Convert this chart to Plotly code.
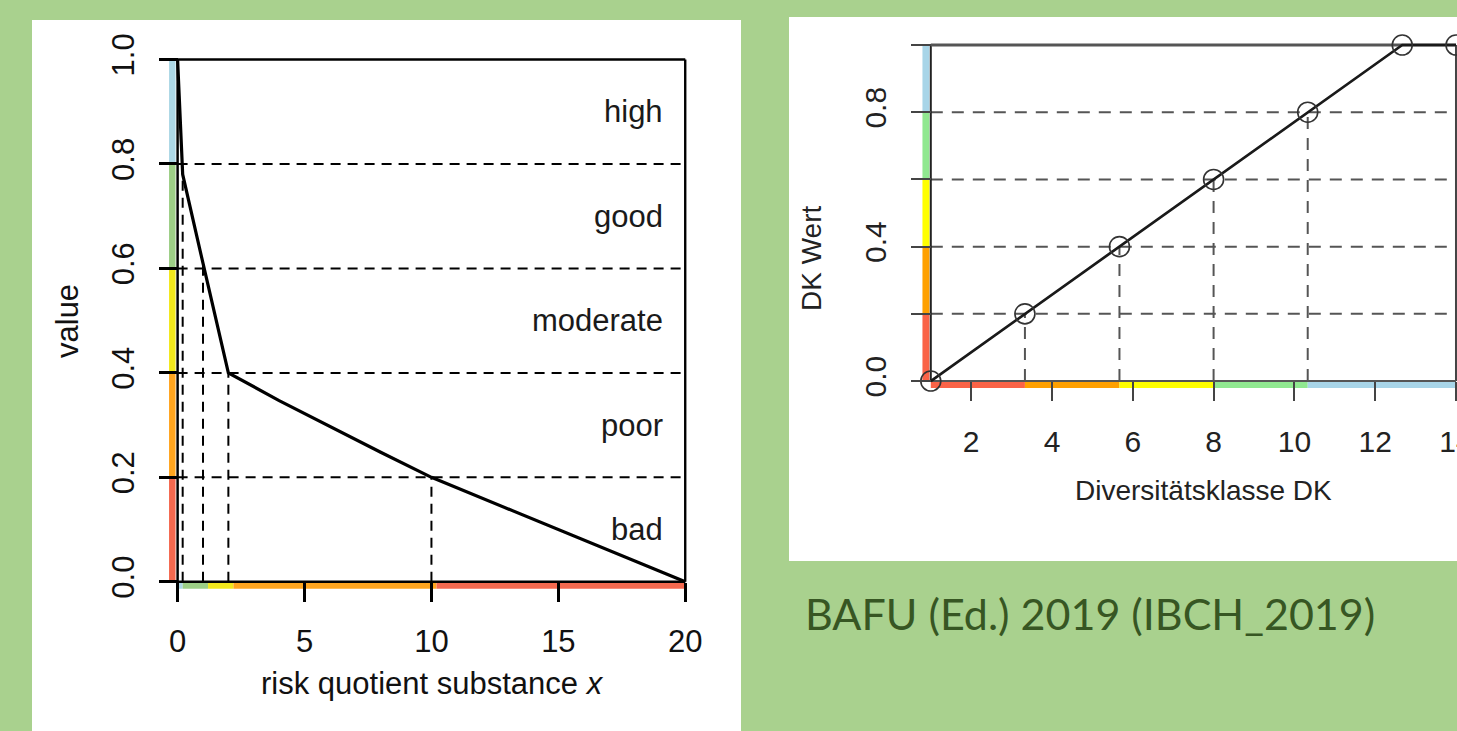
import plotly.graph_objects as go

W, H = 1457, 731


def px(x):
    return x / W


def py(y):
    return 1 - y / H


# ---------------- left chart data ----------------
risk_x = [0, 0.2, 1, 2, 4, 6, 8, 10, 15, 20]
risk_value = [1.0, 0.78, 0.61, 0.40, 0.347, 0.297, 0.248, 0.20, 0.10, 0.0]
class_names = ["bad", "poor", "moderate", "good", "high"]
class_bounds = [0.0, 0.2, 0.4, 0.6, 0.8, 1.0]
left_colors = ["#f4694f", "#ffa51f", "#f2e81c", "#9dcf86", "#add8e6"]  # bad -> high
risk_guide_x = [0.2, 1, 2, 10]
risk_guide_top = [0.78, 0.61, 0.40, 0.20]
risk_bar_bounds = [0.05, 0.2, 1.2, 2.2, 10.2, 20.0]  # high -> bad along x
risk_xticks = [0, 5, 10, 15, 20]
value_yticks = [0.0, 0.2, 0.4, 0.6, 0.8, 1.0]
value_yticklabels = ["0.0", "0.2", "0.4", "0.6", "0.8", "1.0"]

# ---------------- right chart data ----------------
dk_x = [1, 3.33, 5.67, 8, 10.33, 12.67, 14]
dk_value = [0.0, 0.2, 0.4, 0.6, 0.8, 1.0, 1.0]
dk_guide_x = [3.33, 5.67, 8, 10.33]
dk_guide_top = [0.2, 0.4, 0.6, 0.8]
dk_bar_bounds = [1, 3.33, 5.67, 8, 10.33, 14]  # bad -> high along x
right_colors = ["#fa6347", "#ffa000", "#ffff00", "#90e890", "#a8d5e8"]  # bad -> high
dk_xticks = [2, 4, 6, 8, 10, 12, 14]
dk_yticks = [0.0, 0.2, 0.4, 0.6, 0.8, 1.0]
dk_yticklabels = ["0.0", "", "0.4", "", "0.8", ""]

source_text = "BAFU (Ed.) 2019 (IBCH_2019)"

FONT = "Liberation Sans, Arial, Helvetica, sans-serif"

fig = go.Figure()


def seg(x, y, color, width, dash=None, xa="x", ya="y"):
    fig.add_trace(go.Scatter(x=x, y=y, mode="lines", xaxis=xa, yaxis=ya,
                             line=dict(color=color, width=width, dash=dash),
                             hoverinfo="skip", showlegend=False))


# ---------- left chart ----------
for i in range(5):
    seg([-0.21, -0.21], [class_bounds[i], class_bounds[i + 1]], left_colors[i], 6.5)
for i in range(5):
    seg([risk_bar_bounds[i], risk_bar_bounds[i + 1]], [-0.0075, -0.0075], left_colors[4 - i], 6)
for b in class_bounds[1:-1]:
    seg([0, 20], [b, b], "black", 2, "10px,7px")
for gx, gt in zip(risk_guide_x, risk_guide_top):
    seg([gx, gx], [0, gt], "black", 2, "10px,7px")
seg([0, 0], [0, 1], "black", 2.5)
seg([20, 20], [0, 1], "black", 2.5)
seg([0, 20], [1, 1], "black", 2.5)
seg([0, 20], [0, 0], "black", 2.5)
seg(risk_x, risk_value, "black", 3.2)

# ---------- right chart ----------
for i in range(5):
    seg([0.88, 0.88], [class_bounds[i], class_bounds[i + 1]], right_colors[i], 7, xa="x2", ya="y2")
for i in range(5):
    seg([dk_bar_bounds[i], dk_bar_bounds[i + 1]], [-0.012, -0.012], right_colors[i], 6, xa="x2", ya="y2")
for b in class_bounds[1:-1]:
    seg([1, 14], [b, b], "#555555", 2, "12px,9px", xa="x2", ya="y2")
for gx, gt in zip(dk_guide_x, dk_guide_top):
    seg([gx, gx], [0, gt], "#555555", 2, "12px,9px", xa="x2", ya="y2")
seg([1, 1], [0, 1], "#222222", 2, xa="x2", ya="y2")
seg([14, 14], [0, 1], "#444444", 2, xa="x2", ya="y2")
seg([1, 14], [1, 1], "#555555", 3, xa="x2", ya="y2")
seg([1, 14], [0, 0], "#555555", 2, xa="x2", ya="y2")
fig.add_trace(go.Scatter(x=dk_x, y=dk_value, mode="lines+markers", xaxis="x2", yaxis="y2",
                         line=dict(color="#1a1a1a", width=2.7),
                         marker=dict(symbol="circle-open", size=20, color="#333333",
                                     line=dict(width=1.6, color="#333333")),
                         cliponaxis=False, hoverinfo="skip", showlegend=False))

axis_common = dict(showgrid=False, zeroline=False, showline=False, fixedrange=True, automargin=False)

fig.update_layout(
    width=W, height=H,
    margin=dict(l=0, r=0, t=0, b=0, pad=0),
    paper_bgcolor="#a9d18e",
    plot_bgcolor="rgba(0,0,0,0)",
    showlegend=False,
    hovermode=False,
    xaxis=dict(**axis_common, domain=[px(159.4), px(686.8)], range=[-0.717, 20.06],
               anchor="free", position=py(581.8),
               ticks="outside", ticklen=19.5, tickwidth=2.5, tickcolor="black",
               tickvals=risk_xticks, ticktext=[str(v) for v in risk_xticks],
               ticklabelstandoff=12,
               tickfont=dict(family=FONT, size=31, color="#111111")),
    yaxis=dict(**axis_common, domain=[py(605.3), py(56.9)], range=[-0.045, 1.005],
               anchor="x", ticks="inside", ticklen=18.2, tickwidth=2.5, tickcolor="black",
               tickvals=value_yticks, ticktext=value_yticklabels, tickangle=-90,
               ticklabelstandoff=18,
               tickfont=dict(family=FONT, size=31, color="#111111")),
    xaxis2=dict(**axis_common, domain=[px(911), 1.0], range=[0.51, 14.025],
                anchor="free", position=py(381),
                ticks="outside", ticklen=19, tickwidth=2, tickcolor="#444444",
                tickvals=dk_xticks, ticktext=[str(v) for v in dk_xticks],
                ticklabelstandoff=15, ticklabeloverflow="allow",
                tickfont=dict(family=FONT, size=30, color="#222222")),
    yaxis2=dict(**axis_common, domain=[py(401.2), py(43)], range=[-0.06, 1.006],
                anchor="x2", ticks="inside", ticklen=20, tickwidth=2, tickcolor="#444444",
                tickvals=dk_yticks, ticktext=dk_yticklabels, tickangle=-90,
                ticklabelstandoff=18,
                tickfont=dict(family=FONT, size=30, color="#222222")),
    shapes=[
        dict(type="rect", xref="paper", yref="paper", x0=px(32), x1=px(741), y0=py(731), y1=py(20),
             fillcolor="white", line=dict(width=0), layer="below"),
        dict(type="rect", xref="paper", yref="paper", x0=px(789), x1=px(1457), y0=py(561), y1=py(17),
             fillcolor="white", line=dict(width=0), layer="below"),
    ],
)

annotations = []
mids = [(class_bounds[i] + class_bounds[i + 1]) / 2 for i in range(5)]
for name, m in zip(class_names, mids):
    annotations.append(dict(text=name, x=19.2, y=m, xref="x", yref="y", xanchor="right",
                            yanchor="middle", showarrow=False,
                            font=dict(family=FONT, size=31, color="#1a1a1a")))
annotations += [
    dict(text="value", x=px(67), y=py(321), xref="paper", yref="paper", textangle=-90,
         xanchor="center", yanchor="middle",
         showarrow=False, font=dict(family=FONT, size=31, color="#111111")),
    dict(text="risk quotient substance <i>x</i>", x=px(432), y=py(683), xref="paper", yref="paper",
         xanchor="center", yanchor="middle",
         showarrow=False, font=dict(family=FONT, size=31, color="#111111")),
    dict(text="DK Wert", x=px(811), y=py(259), xref="paper", yref="paper", textangle=-90,
         xanchor="center", yanchor="middle",
         showarrow=False, font=dict(family=FONT, size=28, color="#222222")),
    dict(text="Diversitätsklasse DK", x=px(1203), y=py(490), xref="paper", yref="paper",
         xanchor="center", yanchor="middle",
         showarrow=False, font=dict(family=FONT, size=28, color="#222222")),
    dict(text=source_text, x=px(803), y=py(613), xref="paper", yref="paper", xanchor="left",
         yanchor="middle",
         showarrow=False, font=dict(family="Lato, Open Sans, sans-serif", size=43, color="#375623")),
]
fig.update_layout(annotations=annotations)

fig.write_html("out.html", config={"displayModeBar": False},
               post_script="document.body.style.margin='0px';document.body.style.overflow='hidden';")
